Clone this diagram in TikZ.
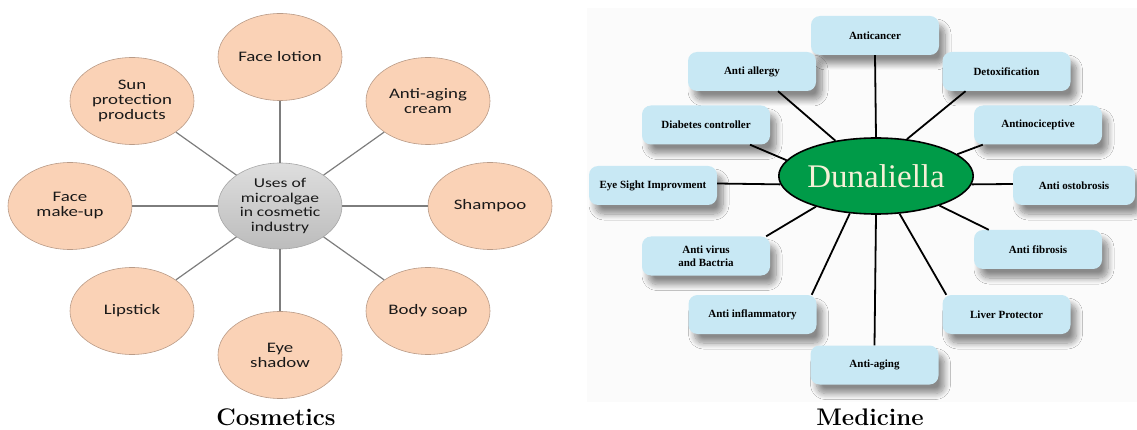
\documentclass[tikz,border=0pt]{standalone}
\usepackage{fontspec}
\newfontfamily\cosfont[FakeStretch=1.3]{Carlito}
\newfontfamily\medfont{Liberation Serif}
\usetikzlibrary{shapes.geometric,shadows.blur}
\definecolor{peach}{RGB}{250,210,182}
\definecolor{peachline}{RGB}{185,155,135}
\definecolor{spokegray}{RGB}{125,125,125}
\definecolor{boxblue}{RGB}{200,232,244}
\definecolor{dgreen}{RGB}{0,155,72}
\definecolor{cream}{RGB}{245,240,215}
\definecolor{panelbg}{RGB}{251,251,251}
\definecolor{ctop}{RGB}{222,222,222}
\definecolor{cbot}{RGB}{188,188,188}
\begin{document}
\begin{tikzpicture}[x=1pt,y=-1pt,
  cositem/.style={ellipse, fill=peach, draw=peachline, line width=0.6pt,
    minimum width=124pt, minimum height=87pt, inner sep=0pt, align=center,
    font=\cosfont\fontsize{14.5}{15}\selectfont, text=black!90},
  coscenter/.style={ellipse, top color=ctop, bottom color=cbot, draw=gray!70,
    line width=0.6pt, minimum width=124pt, minimum height=86pt, inner sep=0pt,
    align=center, font=\cosfont\fontsize{13.5}{14.5}\selectfont, text=black!90},
  spoke/.style={draw=spokegray, line width=1.2pt},
  medbox/.style={rounded corners=9pt, fill=boxblue, minimum width=128pt,
    minimum height=39pt, inner sep=0pt, align=center,
    font=\medfont\bfseries\fontsize{11}{13}\selectfont,
    blur shadow={shadow xshift=6pt, shadow yshift=-9pt, shadow blur radius=6pt,
      shadow blur steps=10, shadow opacity=45}},
  medline/.style={draw=black, line width=1.8pt},
  title/.style={font=\bfseries\fontsize{24}{28}\selectfont, anchor=base}]
\useasboundingbox (0,0) rectangle (1137,430);
\fill[panelbg] (587,8) rectangle (1137,402);

% ---------------- Cosmetics ----------------
\node[coscenter] (c) at (280,206) {Uses of\\microalgae\\in cosmetic\\industry};
\node[cositem] (lotion) at (280,57) {Face lotion};
\node[cositem] (aging) at (428,101) {Anti-aging\\cream};
\node[cositem] (shampoo) at (490,206) {Shampoo};
\node[cositem] (soap) at (428,311) {Body soap};
\node[cositem] (eyesh) at (280,355) {Eye\\shadow};
\node[cositem] (lip) at (132,311) {Lipstick};
\node[cositem] (makeup) at (70,206) {Face\\make-up};
\node[cositem] (sun) at (132,101) {Sun\\protection\\products};
\foreach \n in {lotion,aging,shampoo,soap,eyesh,lip,makeup,sun}
  \draw[spoke] (c) -- (\n);
\node[title] (tcos) at (276,425) {Cosmetics};

% ---------------- Medicine ----------------
\node[medbox] (anticancer) at (875,35.5) {Anticancer};
\node[medbox] (allergy) at (752,71.5) {Anti allergy};
\node[medbox] (diabetes) at (706,125) {Diabetes controller};
\node[medbox] (eye) at (653,185.5) {Eye Sight Improvment};
\node[medbox] (virus) at (706,256) {Anti virus\\and Bactria};
\node[medbox] (inflam) at (752.5,314.5) {Anti inflammatory};
\node[medbox] (antiaging) at (874.5,365) {Anti-aging};
\node[medbox] (liver) at (1006.5,314.5) {Liver Protector};
\node[medbox] (fibrosis) at (1038,249.5) {Anti fibrosis};
\node[medbox, minimum width=122pt] (osto) at (1074,185.5) {Anti ostobrosis};
\node[medbox] (antinoc) at (1038,125) {Antinociceptive};
\node[medbox] (detox) at (1006.5,71.5) {Detoxification};

\node[ellipse, fill=dgreen, draw=black, line width=1.6pt, minimum width=160pt,
  minimum height=76pt, inner sep=0pt, text=cream,
  font=\medfont\fontsize{33}{36}\selectfont] (dun) at (876,176) {Dunaliella};

\draw[medline] (anticancer.south) -- (dun.north);
\draw[medline] ([xshift=26pt]allergy.south) -- (dun.139);
\draw[medline] ([xshift=44pt]diabetes.south) -- (dun.170);
\draw[medline] ([yshift=2pt]eye.east) -- (dun.185);
\draw[medline] ([xshift=-41pt]detox.south) -- (dun.50);
\draw[medline] ([xshift=9pt]antinoc.south west) -- (dun.15);
\draw[medline] ([yshift=1.5pt]osto.west) -- (dun.-5);
\draw[medline] ([xshift=15pt]fibrosis.north west) -- (dun.-25);
\draw[medline] ([xshift=4pt]liver.north west) -- (dun.-58);
\draw[medline] (antiaging.north) -- (dun.south);
\draw[medline] ([xshift=-5pt]inflam.north east) -- (dun.-125);
\draw[medline] ([xshift=-4pt]virus.north east) -- (dun.207);
\node[title] (tmed) at (870,425) {Medicine};
\end{tikzpicture}
\end{document}
